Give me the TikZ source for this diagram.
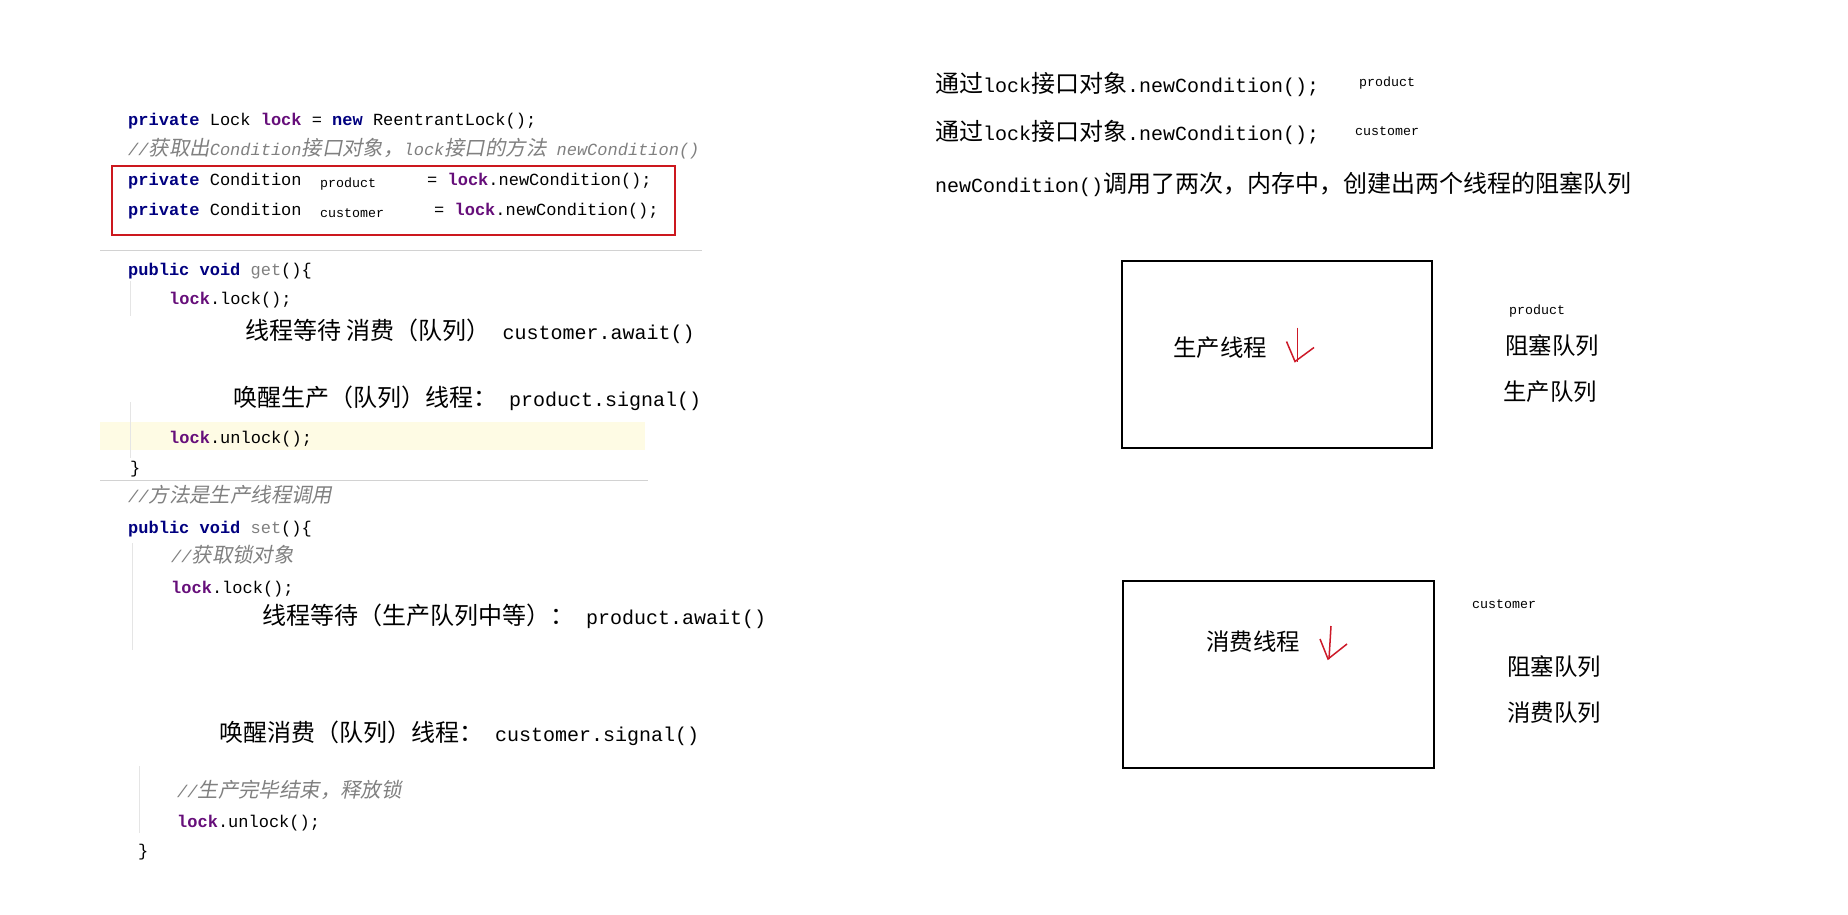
\documentclass[tikz,border=0pt]{standalone}
\usepackage{fontspec}
\setmonofont{Liberation Mono}
\newfontfamily\cjk[Scale=1.2]{Noto Sans CJK SC}
\newfontfamily\cjkit[Scale=1.2,FakeSlant=0.2]{Noto Sans CJK SC}
\usetikzlibrary{positioning}
\definecolor{kwNavy}{RGB}{0,0,128}
\definecolor{fldPurple}{RGB}{102,14,122}
\definecolor{cmtGray}{RGB}{128,128,128}
\definecolor{boxRed}{RGB}{204,24,30}
\definecolor{hlYellow}{RGB}{254,251,228}
\definecolor{penRed}{RGB}{205,25,40}
\newcommand{\kw}[1]{\textcolor{kwNavy}{\bfseries #1}}
\newcommand{\fld}[1]{\textcolor{fldPurple}{\bfseries #1}}
\newcommand{\zh}[1]{{\cjk #1}}
\newcommand{\zhi}[1]{{\cjkit #1}}

\begin{document}
\begin{tikzpicture}[x=1pt,y=-1pt,
  code/.style={anchor=west,inner sep=0pt,font=\ttfamily\fontsize{17}{17}\selectfont,
               text height=15pt,text depth=1.5pt},
  cmt/.style={code,text=cmtGray,font=\ttfamily\itshape\fontsize{17}{17}\selectfont},
  note/.style={anchor=west,inner sep=0pt,font=\ttfamily\fontsize{20}{20}\selectfont,
               text height=18pt,text depth=2pt},
  lbl/.style={note,font=\ttfamily\fontsize{19.5}{19.5}\selectfont},
  small/.style={anchor=west,inner sep=0pt,font=\ttfamily\fontsize{13.3}{13.3}\selectfont,
                text height=11pt,text depth=1pt},
  qbox/.style={draw,line width=2pt,inner sep=0pt,minimum height=187pt},
  hand/.style={draw=penRed,line width=1.5pt},
  sep/.style={draw=gray!35,line width=1pt},
  guide/.style={draw=gray!20,line width=1pt}
]
  \useasboundingbox[fill=white] (0,0) rectangle (1848,915);
  % code: fields
  \fill[hlYellow] (100,422) rectangle (645,450);
  \node[code] (lockDecl) at (128,119) {\kw{private} Lock \fld{lock} = \kw{new} ReentrantLock();};
  \node[cmt]  (condCmt)  at (128,149) {//\zhi{获取出}Condition\zhi{接口对象，}lock\zhi{接口的方法} newCondition()};
  \node[code] (prodDecl) at (128,179) {\kw{private} Condition};
  \node[small](prodName) at (320,182) {product};
  \node[code] (prodInit) at (427,179) {= \fld{lock}.newCondition();};
  \node[code] (custDecl) at (128,209) {\kw{private} Condition};
  \node[small](custName) at (320,212) {customer};
  \node[code] (custInit) at (434,209) {= \fld{lock}.newCondition();};
  \draw[boxRed,line width=1.6pt] (112,166) rectangle (675,235);
  \draw[sep] (100,250) -- (702,250);
  % code: get()
  \node[code] (getHead) at (128,269) {\kw{public} \kw{void} \textcolor{cmtGray}{get}()\{};
  \node[code] (getLock) at (169,298) {\fld{lock}.lock();};
  \node[note] (getWait) at (245,331) {\zh{线程等待 消费（队列）} customer.await()};
  \node[note] (getWake) at (233,398) {\zh{唤醒生产（队列）线程：} product.signal()};
  \node[code] (getFree) at (169,437) {\fld{lock}.unlock();};
  \node[code] (getEnd)  at (130,467) {\}};
  \draw[guide] (130,281) -- (130,316);
  \draw[guide] (130,402) -- (130,458);
  \draw[sep] (100,480) -- (648,480);
  % code: set()
  \node[cmt]  (setCmt)  at (128,496) {//\zhi{方法是生产线程调用}};
  \node[code] (setHead) at (128,527) {\kw{public} \kw{void} \textcolor{cmtGray}{set}()\{};
  \node[cmt]  (lockCmt) at (171,556) {//\zhi{获取锁对象}};
  \node[code] (setLock) at (171,587) {\fld{lock}.lock();};
  \node[note] (setWait) at (262,616) {\zh{线程等待（生产队列中等）：} product.await()};
  \node[note] (setWake) at (219,733) {\zh{唤醒消费（队列）线程：} customer.signal()};
  \node[cmt]  (freeCmt) at (177,791) {//\zhi{生产完毕结束，释放锁}};
  \node[code] (setFree) at (177,821) {\fld{lock}.unlock();};
  \node[code] (setEnd)  at (138,850) {\}};
  \draw[guide] (132,543) -- (132,650);
  \draw[guide] (139,766) -- (139,833);
  % right: explanation
  \node[note]  (newProd) at (935,85)  {\zh{通过}lock\zh{接口对象}.newCondition();};
  \node[small] (tagProd) at (1359,82) {product};
  \node[note]  (newCust) at (935,133) {\zh{通过}lock\zh{接口对象}.newCondition();};
  \node[small] (tagCust) at (1355,131) {customer};
  \node[note]  (twice)   at (935,185) {newCondition()\zh{调用了两次，内存中，创建出两个线程的阻塞队列}};
  % right: producer queue
  \node[qbox,minimum width=310pt] (prodBox) at (1277,354.5) {};
  \node[lbl]   (prodThr) at (1173,348) {\zh{生产线程}};
  \draw[hand] (1297.5,327.5) -- (1297.5,361.5);
  \draw[hand] (1286.5,341.5) -- (1295,361.5) -- (1314,347.5);
  \node[small] (prodKey) at (1509,309) {product};
  \node[lbl]   (prodBlk) at (1505,346) {\zh{阻塞队列}};
  \node[lbl]   (prodQue) at (1503,392) {\zh{生产队列}};
  % right: consumer queue
  \node[qbox,minimum width=311pt] (consBox) at (1278.5,674.5) {};
  \node[lbl]   (consThr) at (1206,642) {\zh{消费线程}};
  \draw[hand] (1331,626) -- (1329,659);
  \draw[hand] (1320,639) -- (1328,659) -- (1347,644);
  \node[small] (consKey) at (1472,603) {customer};
  \node[lbl]   (consBlk) at (1507,667) {\zh{阻塞队列}};
  \node[lbl]   (consQue) at (1507,713) {\zh{消费队列}};
\end{tikzpicture}
\end{document}
